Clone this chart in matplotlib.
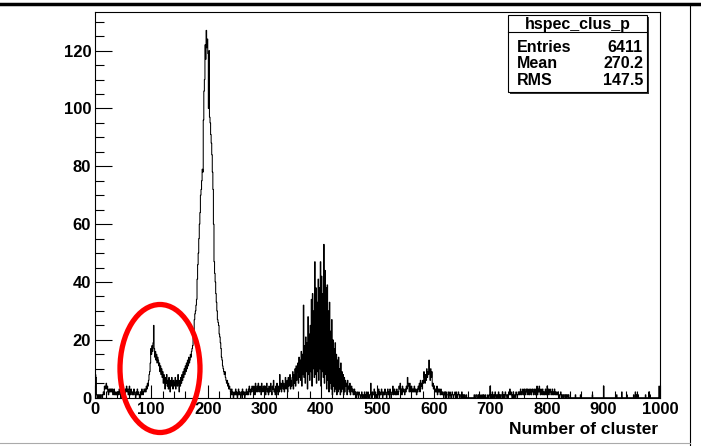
import numpy as np
import matplotlib
matplotlib.use("Agg")
import matplotlib.pyplot as plt
from matplotlib.patches import Ellipse, Rectangle
from matplotlib.lines import Line2D
from matplotlib.ticker import MultipleLocator

plt.rcParams["font.family"] = ["Liberation Sans", "DejaVu Sans"]
plt.rcParams["font.weight"] = "bold"

# hspec_clus_p : 1000 bins of width 1 between 0 and 1000
counts_000 = [8, 8, 7, 1, 0, 1, 1, 0, 1, 1,
              0, 1, 1, 0, 1, 2, 1, 4, 3, 4,
              5, 3, 4, 2, 1, 3, 2, 3, 2, 3,
              2, 3, 1, 2, 3, 1, 2, 1, 1, 2,
              1, 2, 1, 3, 2, 1, 0, 2, 1, 2,
              3, 1, 2, 1, 3, 2, 4, 3, 2, 1,
              3, 4, 2, 1, 3, 2, 1, 2, 1, 3,
              2, 1, 0, 2, 1, 3, 1, 2, 1, 0,
              1, 2, 1, 3, 2, 1, 2, 3, 2, 3,
              2, 4, 3, 5, 4, 6, 8, 9, 12, 17]
counts_100 = [15, 18, 16, 19, 25, 17, 14, 16, 13, 15,
              12, 14, 13, 11, 12, 9, 11, 8, 10, 7,
              9, 5, 8, 6, 3, 7, 5, 8, 4, 6,
              3, 7, 5, 2, 6, 4, 7, 5, 3, 6,
              4, 5, 7, 3, 6, 5, 4, 8, 5, 2,
              6, 4, 7, 5, 8, 6, 9, 7, 10, 8,
              11, 9, 12, 10, 13, 11, 14, 12, 13, 15,
              14, 16, 17, 18, 21, 22, 27, 29, 30, 32,
              34, 41, 46, 50, 55, 60, 64, 70, 72, 75,
              79, 78, 96, 106, 110, 122, 117, 127, 121, 124]
counts_200 = [119, 100, 120, 97, 95, 91, 88, 84, 78, 72,
              60, 47, 43, 40, 36, 33, 30, 27, 26, 25,
              22, 21, 19, 17, 14, 13, 11, 10, 9, 8,
              9, 7, 6, 5, 6, 4, 5, 3, 4, 3,
              2, 1, 3, 2, 1, 0, 2, 1, 1, 3,
              1, 2, 0, 1, 3, 1, 2, 1, 0, 2,
              1, 3, 2, 1, 2, 0, 1, 2, 3, 1,
              2, 1, 3, 4, 2, 1, 3, 2, 4, 3,
              2, 4, 3, 1, 5, 2, 3, 4, 2, 5,
              3, 2, 4, 3, 1, 5, 3, 2, 4, 3]
counts_300 = [2, 4, 1, 3, 5, 2, 3, 1, 4, 2,
              3, 5, 2, 1, 4, 3, 6, 2, 3, 1,
              4, 2, 5, 3, 1, 4, 2, 8, 3, 5,
              2, 4, 6, 3, 5, 2, 4, 7, 3, 5,
              6, 2, 7, 4, 5, 8, 3, 6, 4, 7,
              9, 3, 8, 5, 10, 4, 11, 6, 9, 12,
              5, 14, 7, 13, 6, 16, 4, 15, 8, 32,
              7, 18, 5, 21, 9, 19, 3, 28, 8, 22,
              6, 25, 9, 34, 4, 36, 10, 30, 7, 47,
              8, 38, 5, 33, 9, 41, 6, 38, 10, 47]
counts_400 = [4, 42, 9, 36, 7, 53, 5, 44, 8, 38,
              3, 39, 6, 30, 2, 33, 5, 23, 3, 27,
              1, 20, 4, 17, 2, 19, 3, 15, 1, 13,
              2, 14, 3, 10, 1, 12, 2, 9, 3, 8,
              1, 7, 2, 6, 4, 5, 1, 6, 3, 4,
              2, 5, 1, 3, 4, 2, 3, 1, 2, 3,
              1, 2, 0, 1, 2, 1, 0, 2, 1, 1,
              0, 1, 2, 0, 1, 1, 0, 2, 1, 0,
              1, 0, 1, 2, 0, 1, 0, 1, 5, 1,
              0, 2, 1, 1, 3, 0, 2, 1, 0, 1]
counts_500 = [2, 1, 3, 0, 2, 1, 1, 3, 2, 0,
              1, 2, 1, 3, 2, 1, 0, 2, 3, 1,
              2, 1, 3, 2, 0, 1, 2, 4, 1, 2,
              3, 1, 2, 1, 3, 2, 1, 2, 4, 3,
              5, 2, 3, 1, 4, 2, 3, 2, 1, 3,
              2, 4, 3, 7, 5, 4, 2, 5, 3, 2,
              4, 3, 2, 3, 2, 4, 2, 3, 2, 1,
              3, 2, 4, 3, 5, 2, 6, 4, 5, 3,
              6, 5, 9, 7, 5, 8, 6, 10, 7, 9,
              8, 13, 9, 6, 10, 7, 9, 4, 5, 3]
counts_600 = [4, 3, 2, 3, 2, 4, 1, 3, 2, 3,
              2, 1, 3, 2, 1, 2, 1, 0, 2, 1,
              1, 2, 0, 1, 1, 2, 0, 1, 2, 1,
              0, 1, 2, 1, 0, 1, 1, 2, 0, 1,
              1, 0, 1, 2, 1, 0, 1, 1, 0, 2,
              1, 0, 1, 0, 1, 0, 0, 1, 0, 0,
              0, 0, 0, 0, 0, 0, 0, 0, 0, 0,
              0, 1, 0, 0, 1, 1, 0, 0, 1, 0,
              1, 0, 0, 1, 0, 0, 1, 0, 1, 0,
              0, 1, 0, 0, 0, 1, 0, 0, 1, 4]
counts_700 = [1, 0, 1, 2, 0, 1, 1, 0, 2, 1,
              0, 1, 1, 0, 2, 1, 0, 1, 0, 1,
              1, 2, 0, 1, 1, 0, 2, 1, 1, 0,
              1, 0, 2, 1, 3, 1, 2, 1, 0, 1,
              2, 1, 1, 0, 1, 2, 1, 0, 1, 2,
              1, 2, 1, 3, 2, 1, 2, 3, 1, 2,
              3, 2, 1, 3, 2, 3, 1, 2, 3, 1,
              2, 3, 1, 2, 3, 2, 1, 3, 2, 1,
              3, 2, 4, 1, 3, 2, 4, 2, 1, 3,
              2, 1, 3, 2, 1, 2, 1, 3, 2, 1]
counts_800 = [4, 2, 3, 1, 2, 3, 2, 1, 2, 3,
              1, 2, 1, 3, 2, 1, 2, 1, 1, 2,
              1, 1, 0, 1, 2, 1, 0, 1, 1, 0,
              1, 1, 0, 1, 0, 1, 1, 0, 1, 0,
              0, 0, 0, 0, 0, 0, 0, 0, 0, 0,
              1, 0, 0, 0, 0, 0, 0, 0, 0, 1,
              0, 0, 0, 0, 0, 0, 0, 0, 0, 0,
              0, 0, 0, 0, 0, 0, 0, 0, 0, 0,
              1, 0, 0, 0, 0, 0, 0, 0, 0, 0,
              0, 0, 0, 0, 0, 0, 0, 0, 0, 0]
counts_900 = [4, 0, 0, 0, 0, 0, 0, 0, 0, 0,
              0, 0, 0, 0, 0, 0, 0, 0, 0, 0,
              0, 0, 0, 1, 0, 0, 0, 0, 0, 0,
              0, 0, 2, 0, 0, 0, 0, 0, 0, 0,
              0, 1, 0, 0, 0, 0, 0, 0, 0, 0,
              0, 0, 0, 1, 0, 0, 2, 0, 1, 0,
              0, 1, 0, 0, 0, 0, 0, 0, 0, 0,
              0, 0, 0, 0, 1, 0, 0, 0, 0, 0,
              2, 0, 1, 0, 0, 0, 0, 0, 0, 0,
              0, 0, 0, 0, 0, 0, 0, 0, 4, 0]

hist_name = "hspec_clus_p"
stat_labels = ["Entries", "Mean", "RMS"]
stat_values = ["6411", "270.2", "147.5"]
x_label = "Number of cluster"

counts = np.array(counts_000 + counts_100 + counts_200 + counts_300 + counts_400
                  + counts_500 + counts_600 + counts_700 + counts_800 + counts_900)
edges = np.linspace(0, 1000, len(counts) + 1)

W, H = 701, 446
fig = plt.figure(figsize=(W / 100, H / 100), dpi=100)
ax = fig.add_axes([94.7 / W, 1 - 397.7 / H, (660 - 94.7) / W, (397.7 - 12) / H])

ax.stairs(counts, edges, color="black", linewidth=0.75)
ax.set_xlim(0, 1000)
ax.set_ylim(0, 1.05 * counts.max())

ax.xaxis.set_major_locator(MultipleLocator(100))
ax.xaxis.set_minor_locator(MultipleLocator(20))
ax.yaxis.set_major_locator(MultipleLocator(20))
ax.yaxis.set_minor_locator(MultipleLocator(5))
ax.tick_params(axis="x", which="major", direction="in", length=9.5, width=0.8, pad=3, labelsize=12)
ax.tick_params(axis="x", which="minor", direction="in", length=5, width=0.8)
ax.tick_params(axis="y", which="major", direction="in", length=12, width=0.8, pad=2.5, labelsize=12)
ax.tick_params(axis="y", which="minor", direction="in", length=6.5, width=0.8)
for lab in ax.get_xticklabels() + ax.get_yticklabels():
    lab.set_fontweight("bold")
for sp in ax.spines.values():
    sp.set_linewidth(0.8)

fig.text(658 / W, 1 - 434 / H, x_label, ha="right", va="baseline", fontsize=12.5, fontweight="bold")

# stats box (ROOT style, with shadow)
bx0, bx1, by0, by1 = 508, 647, 15, 92
fig.add_artist(Rectangle((bx0 / W + 2 / W, 1 - by1 / H - 2 / H), (bx1 - bx0) / W, (by1 - by0) / H,
                         transform=fig.transFigure, facecolor="#333333", edgecolor="none"))
fig.add_artist(Rectangle((bx0 / W, 1 - by1 / H), (bx1 - bx0) / W, (by1 - by0) / H,
                         transform=fig.transFigure, facecolor="white", edgecolor="black", linewidth=0.8))
fig.add_artist(Line2D([bx0 / W, bx1 / W], [1 - 32 / H, 1 - 32 / H], transform=fig.transFigure,
                      color="black", linewidth=0.8))
fig.text((bx0 + bx1) / 2 / W, 1 - 25 / H, hist_name, ha="center", va="center", fontsize=11.5, fontweight="bold")
for i, (lab, val) in enumerate(zip(stat_labels, stat_values)):
    yy = 1 - (47.5 + 16.5 * i) / H
    fig.text(516.5 / W, yy, lab, ha="left", va="center", fontsize=11.5, fontweight="bold")
    fig.text(643 / W, yy, val, ha="right", va="center", fontsize=11.5, fontweight="bold")

# outer canvas frame
fig.add_artist(Line2D([0, 1], [1 - 4 / H, 1 - 4 / H], transform=fig.transFigure, color="black", linewidth=2.5))
fig.add_artist(Line2D([690 / W, 690 / W], [0, 1 - 4 / H], transform=fig.transFigure, color="black", linewidth=0.8))
fig.add_artist(Line2D([0, 690 / W], [1 - 443 / H, 1 - 443 / H], transform=fig.transFigure, color="#aaaaaa", linewidth=0.8))

# red circle marking the low bump
fig.add_artist(Ellipse((160 / W, 1 - 368.5 / H), 80 / W, 128 / H, transform=fig.transFigure,
                       fill=False, edgecolor="red", linewidth=3.8))

fig.savefig("out.png", dpi=100)
